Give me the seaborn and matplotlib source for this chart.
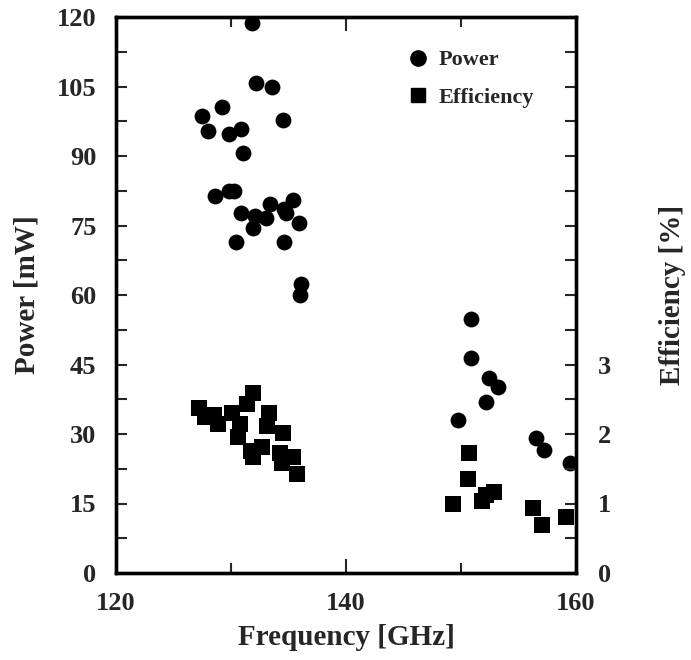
import numpy as np
import pandas as pd
import matplotlib
matplotlib.use("Agg")
import matplotlib.pyplot as plt
import seaborn as sns
from matplotlib.ticker import MultipleLocator, FixedLocator
from matplotlib.lines import Line2D

# ---- data ----
power_freq = [131.8, 132.2, 133.6, 129.2, 127.5, 134.5, 128.0, 129.8, 130.9, 131.0,
              128.6, 129.8, 130.3, 130.9, 132.1, 133.0, 133.4, 131.9, 135.4, 134.6,
              134.8, 135.9, 130.4, 134.6, 136.1, 136.0,
              150.9, 150.9, 152.4, 153.2, 152.2, 149.7, 156.5, 157.2, 159.5]
power_mw = [118.6, 105.8, 104.8, 100.6, 98.6, 97.8, 95.3, 94.7, 95.8, 90.6,
            81.4, 82.5, 82.5, 77.6, 77.1, 76.6, 79.6, 74.4, 80.6, 78.5,
            77.6, 75.6, 71.5, 71.5, 62.3, 60.1,
            54.8, 46.3, 42.0, 40.1, 37.0, 33.0, 29.1, 26.5, 23.7]

eff_freq = [127.2, 127.7, 128.5, 128.9, 130.1, 130.8, 130.6, 131.9, 131.4, 131.7,
            131.9, 132.7, 133.3, 133.1, 134.5, 134.3, 134.4, 135.4, 135.7,
            149.3, 150.7, 150.6, 151.8, 152.2, 152.9, 156.3, 157.0, 159.1]
eff_pct = [2.37, 2.25, 2.27, 2.15, 2.30, 2.15, 1.96, 2.59, 2.43, 1.75,
           1.67, 1.82, 2.30, 2.11, 2.02, 1.72, 1.58, 1.67, 1.43,
           1.00, 1.72, 1.35, 1.03, 1.12, 1.16, 0.93, 0.69, 0.80]

x_ticks = [120, 140, 160]
power_ticks = [0, 15, 30, 45, 60, 75, 90, 105, 120]
eff_ticks = [0, 1, 2, 3]

df_p = pd.DataFrame({"freq": power_freq, "power": power_mw})
df_e = pd.DataFrame({"freq": eff_freq, "eff": eff_pct})

sns.set_theme(style="ticks")
plt.rcParams["font.family"] = ["Liberation Serif", "DejaVu Serif"]
plt.rcParams["font.weight"] = "bold"

fig = plt.figure(figsize=(6.91, 6.60), dpi=100)
ax = fig.add_axes([116/691, 1-573/660, 460/691, 556/660])
ax2 = ax.twinx()

sns.scatterplot(data=df_p, x="freq", y="power", ax=ax, marker="o", s=130,
                color="black", edgecolor="black", linewidth=0, legend=False)
sns.scatterplot(data=df_e, x="freq", y="eff", ax=ax2, marker="s", s=130,
                color="black", edgecolor="black", linewidth=0, legend=False)

ax.set_xlim(120, 160)
ax.set_ylim(0, 120)
ax2.set_ylim(0, 8)

ax.set_xticks(x_ticks)
ax.xaxis.set_minor_locator(MultipleLocator(10))
ax.set_yticks(power_ticks)
ax.yaxis.set_minor_locator(MultipleLocator(7.5))
ax2.set_yticks(eff_ticks)
ax2.yaxis.set_minor_locator(FixedLocator(list(np.arange(0, 8.01, 0.5))))

fs_tick = 19
for a in (ax, ax2):
    for sp in a.spines.values():
        sp.set_linewidth(2.4)
        sp.set_color("black")
ax.tick_params(axis="x", which="both", direction="in", top=True, bottom=True,
               labelsize=fs_tick, pad=14, width=1.5)
ax.tick_params(axis="x", which="major", length=10)
ax.tick_params(axis="x", which="minor", length=7)
ax.tick_params(axis="y", which="both", direction="in", left=True, right=False,
               labelsize=fs_tick, pad=14, width=1.5, length=8)
ax2.tick_params(axis="y", which="both", direction="in", right=True, left=False,
                labelsize=fs_tick, pad=16, width=1.5, length=8)
for lab in ax.get_xticklabels() + ax.get_yticklabels() + ax2.get_yticklabels():
    lab.set_fontweight("bold")

ax.set_xlabel("Frequency [GHz]", fontsize=21, fontweight="bold", labelpad=6)
ax.set_ylabel("Power [mW]", fontsize=21, fontweight="bold", labelpad=12)
ax2.set_ylabel("Efficiency [%]", fontsize=21, fontweight="bold", labelpad=34)

handles = [Line2D([], [], marker="o", color="black", linestyle="none", markersize=11),
           Line2D([], [], marker="s", color="black", linestyle="none", markersize=10)]
ax.legend(handles, ["Power", "Efficiency"], loc="upper left",
          bbox_to_anchor=(0.585, 0.977), frameon=False,
          prop={"size": 16, "weight": "bold"}, handletextpad=0.3,
          labelspacing=0.75, handlelength=1.2)

fig.savefig("out.png", dpi=100)
